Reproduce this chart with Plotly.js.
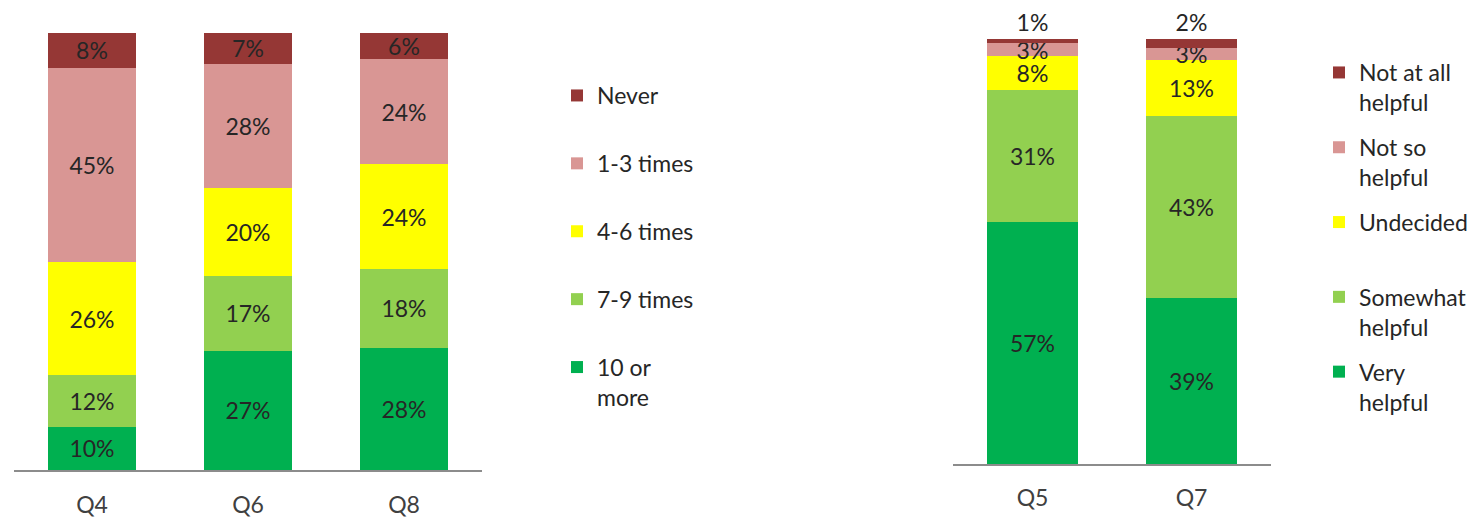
<!DOCTYPE html>
<html>
<head>
<meta charset="utf-8">
<script src="https://cdn.plot.ly/plotly-3.0.1.min.js"></script>
<style>html,body{margin:0;padding:0;background:#fff;}#chart{width:1483px;height:519px;}</style>
</head>
<body>
<div id="chart"></div>
<script>
// Left chart: frequency
const freqCategories = ['Q4', 'Q6', 'Q8'];
const freqTenOrMore = [10, 27, 28];
const freqSevenNine = [12, 17, 18];
const freqFourSix = [26, 20, 24];
const freqOneThree = [45, 28, 24];
const freqNever = [8, 7, 6];
const freqNames = ['10 or<br>more', '7-9 times', '4-6 times', '1-3 times', 'Never'];

// Right chart: helpfulness
const helpCategories = ['Q5', 'Q7'];
const helpVery = [57, 39];
const helpSomewhat = [31, 43];
const helpUndecided = [8, 13];
const helpNotSo = [3, 3];
const helpNotAtAll = [1, 2];
const helpNames = ['Very<br>helpful', 'Somewhat<br>helpful', 'Undecided<br> ', 'Not so<br>helpful', 'Not at all<br>helpful'];

const colors = ['#00B050', '#92D050', '#FFFF00', '#D99694', '#953735'];
const FONT = 'Lato, "Open Sans", sans-serif';
const TXT = '#262626';
const FS = 23;

function mk(x, y, name, color, xa, ya, legend, idx, pos) {
  return {
    type: 'bar', x: x, y: y, name: name,
    marker: {color: color, line: {width: 0}},
    xaxis: xa, yaxis: ya, legend: legend, legendgroup: legend + idx, legendrank: 10 - idx,
    text: y.map(v => v + '%'), textposition: pos, textangle: 0,
    constraintext: 'none', cliponaxis: false,
    insidetextanchor: 'middle',
    textfont: {family: FONT, size: FS, color: TXT},
    insidetextfont: {family: FONT, size: FS, color: TXT},
    outsidetextfont: {family: FONT, size: FS, color: TXT},
    hoverinfo: 'x+name+text'
  };
}

const leftSeries = [freqTenOrMore, freqSevenNine, freqFourSix, freqOneThree, freqNever];
const rightSeries = [helpVery, helpSomewhat, helpUndecided, helpNotSo, helpNotAtAll];

const data = [];
leftSeries.forEach((s, i) => data.push(mk(freqCategories, s, freqNames[i], colors[i], 'x', 'y', 'legend', i, 'inside')));
rightSeries.forEach((s, i) => data.push(mk(helpCategories, s, helpNames[i], colors[i], 'x2', 'y2', 'legend2', i, i === 4 ? 'outside' : 'inside')));

const W = 1483, H = 519;
const axisX = {
  showline: true, linecolor: '#8C8C8C', linewidth: 1.5, showgrid: false, zeroline: false,
  ticks: '', tickfont: {family: FONT, size: FS, color: '#404040'}, fixedrange: true
};
const axisY = {visible: false, range: [0, 100.01], fixedrange: true, showgrid: false, zeroline: false};

const layout = {
  width: W, height: H,
  margin: {l: 0, r: 0, t: 0, b: 0},
  paper_bgcolor: '#fff', plot_bgcolor: 'rgba(0,0,0,0)',
  barmode: 'stack', barnorm: 'percent', bargap: 0.43,
  font: {family: FONT, size: FS, color: TXT},
  showlegend: true,
  xaxis: Object.assign({}, axisX, {domain: [14 / W, 482 / W], anchor: 'y', ticklabelstandoff: 14}),
  yaxis: Object.assign({}, axisY, {domain: [1 - 470 / H, 1 - 33 / H], anchor: 'x'}),
  xaxis2: Object.assign({}, axisX, {domain: [953 / W, 1271 / W], anchor: 'y2', ticklabelstandoff: 13}),
  yaxis2: Object.assign({}, axisY, {domain: [1 - 464 / H, 1 - 39 / H], anchor: 'x2'}),
  legend: {
    x: 557 / W, xanchor: 'left', y: 1 - 74 / H, yanchor: 'top',
    traceorder: 'grouped', tracegroupgap: 35, valign: 'top',
    font: {family: FONT, size: FS, color: TXT}, bgcolor: 'rgba(0,0,0,0)'
  },
  legend2: {
    x: 1319 / W, xanchor: 'left', y: 1 - 51 / H, yanchor: 'top',
    traceorder: 'grouped', tracegroupgap: 12, valign: 'top',
    font: {family: FONT, size: FS, color: TXT}, bgcolor: 'rgba(0,0,0,0)'
  }
};

Plotly.newPlot('chart', data, layout, {displayModeBar: false, staticPlot: true});
</script>
</body>
</html>
